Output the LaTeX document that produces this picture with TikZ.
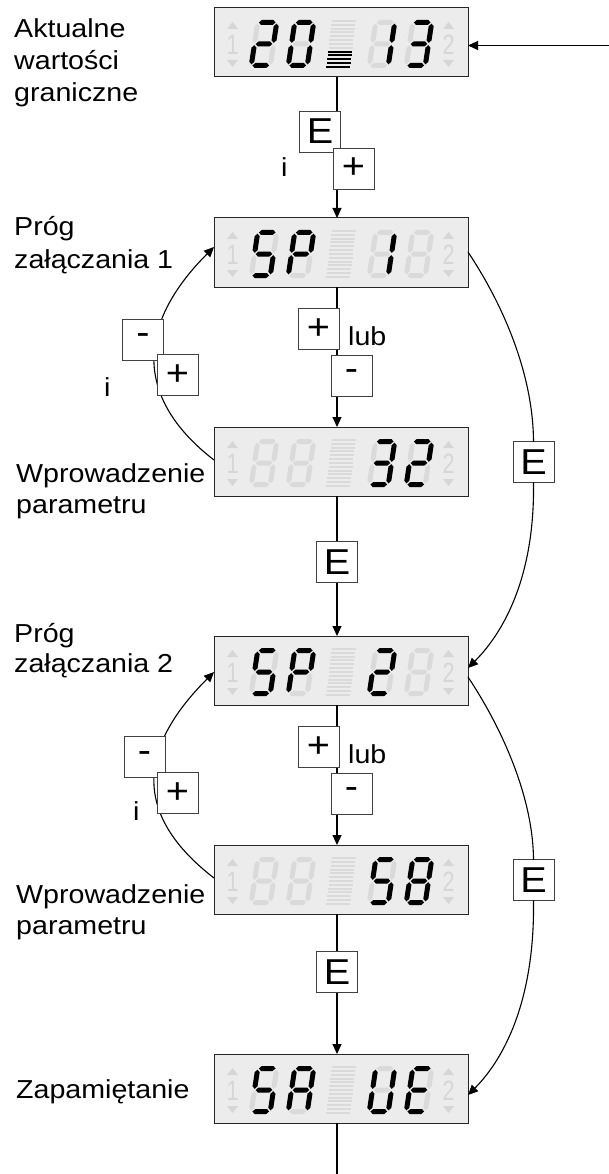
\documentclass[tikz,border=0pt]{standalone}
\usepackage{fontspec}
\setmainfont{Liberation Sans}[FakeStretch=1.1]
\usetikzlibrary{arrows.meta}
\definecolor{lcdbg}{HTML}{ECECEC}
\definecolor{segoff}{HTML}{DADADA}
\definecolor{indc}{HTML}{D6D6D6}
\definecolor{keyframe}{HTML}{404040}
\tikzset{
 lcdbox/.style={draw=black!85, line width=1pt, fill=lcdbg, minimum width=254pt, minimum height=69pt, inner sep=0pt, outer sep=0pt},
 keybox/.style={draw=keyframe, line width=0.9pt, fill=white, minimum size=41pt, inner sep=0pt, outer sep=0pt, font=\fontsize{36}{36}\selectfont},
 lbl/.style={anchor=base west, inner sep=0pt, font=\fontsize{26}{32}\selectfont},
 indtext/.style={text=indc, inner sep=0pt, font=\fontsize{28}{28}\selectfont, xscale=0.7},
 conn/.style={line width=1.1pt},
 arr/.style={conn, -{Triangle[length=10pt,width=9pt]}},
}
% seven-segment pieces (local coords, y down)
\newcommand\sgh[2]{\fill[#1] (-8.3,#2) -- (-5.8,#2-2.5) -- (5.8,#2-2.5) -- (8.3,#2) -- (5.8,#2+2.5) -- (-5.8,#2+2.5) -- cycle;}
\newcommand\sgv[4]{\fill[#1] (#2,#3) -- (#2+2.5,#3+2.5) -- (#2+2.5,#4-2.5) -- (#2,#4) -- (#2-2.5,#4-2.5) -- (#2-2.5,#3+2.5) -- cycle;}
\newcommand\sgA[1]{\sgh{#1}{-21.5}}
\newcommand\sgB[1]{\sgv{#1}{9.5}{-20.3}{-1.2}}
\newcommand\sgC[1]{\sgv{#1}{9.5}{1.2}{20.3}}
\newcommand\sgD[1]{\sgh{#1}{21.5}}
\newcommand\sgE[1]{\sgv{#1}{-9.5}{1.2}{20.3}}
\newcommand\sgF[1]{\sgv{#1}{-9.5}{-20.3}{-1.2}}
\newcommand\sgG[1]{\sgh{#1}{0}}
\newcommand\sgN[1]{}
\newcommand\lcddigit[3]{%
 \begin{scope}[shift={(#1,#2)}, xslant=0.15]
  \sgA{segoff}\sgB{segoff}\sgC{segoff}\sgD{segoff}\sgE{segoff}\sgF{segoff}\sgG{segoff}
  \foreach \s in {#3}{\csname sg\s\endcsname{black}}
 \end{scope}}
\newcommand\lcdbar[3]{%
 \begin{scope}[shift={(#1,#2)}, xslant=0.12]
  \foreach \i in {0,...,12}{%
   \ifnum\i>\numexpr12-#3\relax\def\bc{black}\else\def\bc{segoff}\fi
   \draw[\bc, line width=2pt] (-12,-23+\i*3.83) -- (12,-23+\i*3.83);}
 \end{scope}}
\newcommand\lcdunit[7]{%
 \node[lcdbox, anchor=north west] (#1) at (214,#2) {};
 \begin{scope}[shift={(214,#2)}]
  \fill[indc] (13,21) -- (18.5,14) -- (24,21) -- cycle;
  \fill[indc] (13,52) -- (24,52) -- (18.5,59) -- cycle;
  \node[indtext] (#1-one) at (18.5,37) {1};
  \fill[indc] (229,21) -- (234.5,14) -- (240,21) -- cycle;
  \fill[indc] (229,52) -- (240,52) -- (234.5,59) -- cycle;
  \node[indtext] (#1-two) at (234.5,37) {2};
  \lcddigit{50}{36}{#3}
  \lcddigit{87}{36}{#4}
  \lcdbar{127}{36}{#7}
  \lcddigit{168}{36}{#5}
  \lcddigit{205}{36}{#6}
 \end{scope}}
\begin{document}
\begin{tikzpicture}[x=1pt,y=-1pt]
\useasboundingbox (0,0) rectangle (609,1174);
\coordinate (lx) at (337,0);
\coordinate (topin) at (609,45.5);
\coordinate (bend) at (337,1174);
% displays
\lcdunit{d1}{8}{A,B,G,E,D}{A,B,C,D,E,F}{B,C}{A,B,C,D,G}{5}
\lcdunit{d2}{218}{A,F,G,C,D}{A,B,F,G,E}{B,C}{N}{0}
\lcdunit{d3}{427}{N}{N}{A,B,C,D,G}{A,B,G,E,D}{0}
\lcdunit{d4}{636}{A,F,G,C,D}{A,B,F,G,E}{A,B,G,E,D}{N}{0}
\lcdunit{d5}{845}{N}{N}{A,F,G,C,D}{A,B,C,D,E,F,G}{0}
\lcdunit{d6}{1054}{A,F,G,C,D}{A,B,C,E,F,G}{B,C,D,E,F}{A,D,E,F,G}{0}
% main vertical flow
\draw[arr] (topin) -- (d1.east |- topin);
\draw[arr] (d1.south -| lx) -- (d2.north -| lx);
\draw[arr] (d2.south -| lx) -- (d3.north -| lx);
\draw[arr] (d3.south -| lx) -- (d4.north -| lx);
\draw[arr] (d4.south -| lx) -- (d5.north -| lx);
\draw[arr] (d5.south -| lx) -- (d6.north -| lx);
\draw[conn] (d6.south -| lx) -- (bend);
% left loops
\draw[arr] (d3.west |- 0,460) .. controls (135,399) and (135,326) .. (d2.west |- 0,247);
\draw[arr] (d5.west |- 0,878) .. controls (135,817) and (135,751) .. (d4.west |- 0,672);
% right skips
\node[keybox] (r1) at (533.5,462) {E};
\node[keybox] (r2) at (533.5,880) {E};
\draw[conn] (d2.east |- 0,252) .. controls (500,300) and (533,370) .. (r1.north);
\draw[arr] (r1.south) .. controls (535,585) and (498,638) .. (d4.east |- 0,668);
\draw[conn] (d4.east |- 0,677) .. controls (500,725) and (533,795) .. (r2.north);
\draw[arr] (r2.south) .. controls (535,1010) and (498,1065) .. (d6.east |- 0,1095);
% keys on the main flow
\node[keybox] (k1e) at (320,131.5) {E};
\node[keybox] (k1p) at (353.5,168.5) {+};
\node[lbl] (i1) at (281,177) {i};
\node[keybox] (k2p) at (318.5,329) {+};
\node[keybox] (k2m) at (351.5,375.5) {-};
\node[lbl] (lub1) at (348,345) {lub};
\node[keybox] (k3e) at (337,562) {E};
\node[keybox] (k4p) at (318.5,747) {+};
\node[keybox] (k4m) at (351.5,793.5) {-};
\node[lbl] (lub2) at (348,763) {lub};
\node[keybox] (k5e) at (337,972) {E};
% keys on the loops
\node[keybox] (l1m) at (143,339.5) {-};
\node[keybox] (l1p) at (177.5,375) {+};
\node[lbl] (i2) at (104,396) {i};
\node[keybox] (l2m) at (144.5,757) {-};
\node[keybox] (l2p) at (177.5,793) {+};
\node[lbl] (i3) at (133,820) {i};
% labels
\node[lbl] (t1a) at (14,38) {Aktualne};
\node[lbl] (t1b) at (14,70) {wartości};
\node[lbl] (t1c) at (14,102) {graniczne};
\node[lbl] (t2a) at (14,236) {Próg};
\node[lbl] (t2b) at (14,268) {załączania 1};
\node[lbl] (t3a) at (16,482) {Wprowadzenie};
\node[lbl] (t3b) at (16,513) {parametru};
\node[lbl] (t4a) at (14,642) {Próg};
\node[lbl] (t4b) at (14,672) {załączania 2};
\node[lbl] (t5a) at (16,903) {Wprowadzenie};
\node[lbl] (t5b) at (16,934) {parametru};
\node[lbl] (t6) at (16,1098) {Zapamiętanie};
\end{tikzpicture}
\end{document}
